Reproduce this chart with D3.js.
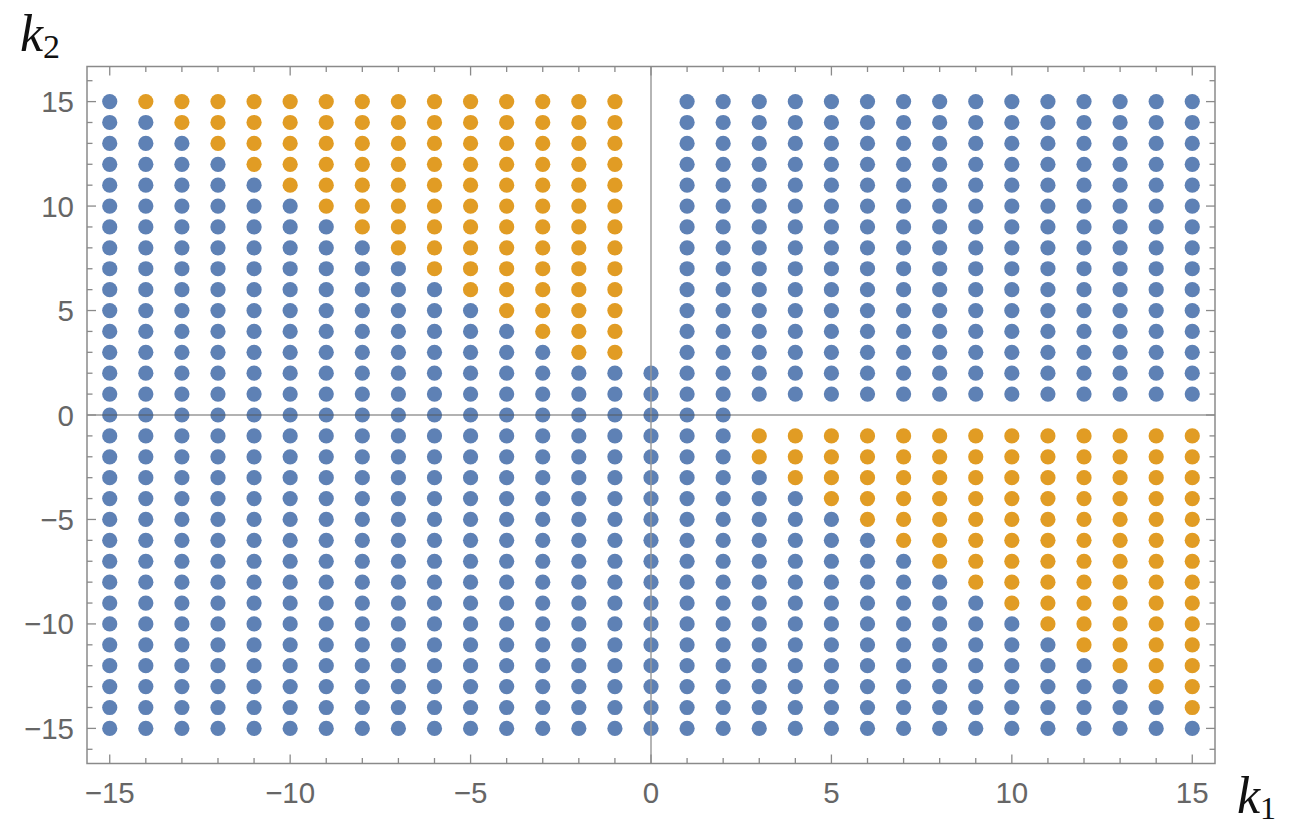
<!DOCTYPE html>
<html>
<head>
<meta charset="utf-8">
<script src="https://cdn.jsdelivr.net/npm/d3@7"></script>
<style>
  html, body { margin: 0; padding: 0; background: #fff; }
  svg { display: block; }
  .tick-label { font-family: "Liberation Sans", Arial, sans-serif; font-size: 29.5px; fill: #666; }
  .axis-title { font-family: "Liberation Serif", "Times New Roman", serif; font-style: italic; fill: #111; }
</style>
</head>
<body>
<svg id="chart" width="1293" height="827"></svg>
<script>
// Lattice coordinates
const k1Values = [-15,-14,-13,-12,-11,-10,-9,-8,-7,-6,-5,-4,-3,-2,-1,0,1,2,3,4,5,6,7,8,9,10,11,12,13,14,15];
const k2Values = [-15,-14,-13,-12,-11,-10,-9,-8,-7,-6,-5,-4,-3,-2,-1,0,1,2,3,4,5,6,7,8,9,10,11,12,13,14,15];

// Per k1 column: lowest k2 of the orange run that reaches up to k2 = 15 (null = none)
const upperOrangeFrom = [null,15,14,13,12,11,10,9,8,7,6,5,4,3,3,null,null,null,null,null,null,null,null,null,null,null,null,null,null,null,null];
// Per k1 column: lowest k2 of the orange run that starts at k2 = -1 (null = none)
const lowerOrangeTo = [null,null,null,null,null,null,null,null,null,null,null,null,null,null,null,null,null,null,-2,-3,-4,-5,-6,-7,-8,-9,-10,-11,-12,-13,-14];

// Lattice sites that carry no point
const gapsInColumn = [{ k1: 0, k2From: 3, k2To: 15 }];
const gapsInRow = [{ k2: 0, k1From: 3, k1To: 15 }];

// Frame ticks
const majorTicks = [-15, -10, -5, 0, 5, 10, 15];
const minorTicksX = [-15,-14,-13,-12,-11,-10,-9,-8,-7,-6,-5,-4,-3,-2,-1,0,1,2,3,4,5,6,7,8,9,10,11,12,13,14,15];
const minorTicksY = [-16,-15,-14,-13,-12,-11,-10,-9,-8,-7,-6,-5,-4,-3,-2,-1,0,1,2,3,4,5,6,7,8,9,10,11,12,13,14,15,16];

const colors = { base: "#5E81B5", flagged: "#E19C24" };

// Assemble point list
const points = [];
k1Values.forEach((a, i) => {
  k2Values.forEach(b => {
    const inColGap = gapsInColumn.some(g => g.k1 === a && b >= g.k2From && b <= g.k2To);
    const inRowGap = gapsInRow.some(g => g.k2 === b && a >= g.k1From && a <= g.k1To);
    if (inColGap || inRowGap) return;
    let flagged = false;
    if (upperOrangeFrom[i] !== null && b >= upperOrangeFrom[i]) flagged = true;
    if (lowerOrangeTo[i] !== null && b <= -1 && b >= lowerOrangeTo[i]) flagged = true;
    points.push({ k1: a, k2: b, flagged });
  });
});

const svg = d3.select("#chart");
const plotLeft = 87, plotRight = 1215, plotTop = 66.5, plotBottom = 763.5;

const x = d3.scaleLinear().domain([-15.63, 15.63]).range([plotLeft, plotRight]);
const y = d3.scaleLinear().domain([-16.68, 16.68]).range([plotBottom, plotTop]);

const frameColor = "#8a8a8a";
const majorLen = 9, minorLen = 5.5;

// Points
svg.append("g")
  .selectAll("circle")
  .data(points)
  .join("circle")
  .attr("cx", d => x(d.k1))
  .attr("cy", d => y(d.k2))
  .attr("r", 7.6)
  .attr("fill", d => d.flagged ? colors.flagged : colors.base);

// Axes through the origin
svg.append("line")
  .attr("x1", x(0)).attr("x2", x(0))
  .attr("y1", plotTop).attr("y2", plotBottom)
  .attr("stroke", "#999").attr("stroke-width", 1.6).attr("stroke-opacity", 0.9);
svg.append("line")
  .attr("x1", plotLeft).attr("x2", plotRight)
  .attr("y1", y(0)).attr("y2", y(0))
  .attr("stroke", "#555").attr("stroke-width", 1.1).attr("stroke-opacity", 0.9);

// Frame
svg.append("rect")
  .attr("x", plotLeft).attr("y", plotTop)
  .attr("width", plotRight - plotLeft).attr("height", plotBottom - plotTop)
  .attr("fill", "none").attr("stroke", frameColor).attr("stroke-width", 1.5);

// Inward ticks on all four sides
const ticks = svg.append("g").attr("stroke", frameColor).attr("stroke-width", 1.3);
minorTicksX.forEach(v => {
  const len = majorTicks.includes(v) ? majorLen : minorLen;
  ticks.append("line").attr("x1", x(v)).attr("x2", x(v)).attr("y1", plotBottom).attr("y2", plotBottom - len);
  ticks.append("line").attr("x1", x(v)).attr("x2", x(v)).attr("y1", plotTop).attr("y2", plotTop + len);
});
minorTicksY.forEach(v => {
  const len = majorTicks.includes(v) ? majorLen : minorLen;
  ticks.append("line").attr("y1", y(v)).attr("y2", y(v)).attr("x1", plotLeft).attr("x2", plotLeft + len);
  ticks.append("line").attr("y1", y(v)).attr("y2", y(v)).attr("x1", plotRight).attr("x2", plotRight - len);
});

const fmt = d3.format("d");

// Tick labels
svg.append("g").selectAll("text")
  .data(majorTicks).join("text")
  .attr("class", "tick-label")
  .attr("x", d => x(d))
  .attr("y", plotBottom + 39)
  .attr("text-anchor", "middle")
  .text(d => fmt(d));

svg.append("g").selectAll("text")
  .data(majorTicks).join("text")
  .attr("class", "tick-label")
  .attr("x", plotLeft - 13)
  .attr("y", d => y(d) + 10.5)
  .attr("text-anchor", "end")
  .text(d => fmt(d));

// Axis titles
const t2 = svg.append("text").attr("class", "axis-title").attr("x", 20).attr("y", 51);
t2.append("tspan").attr("font-size", 52).text("k");
t2.append("tspan").attr("font-size", 34).attr("font-style", "normal").attr("dy", 7).text("2");

const t1 = svg.append("text").attr("class", "axis-title").attr("x", 1237).attr("y", 813);
t1.append("tspan").attr("font-size", 52).text("k");
t1.append("tspan").attr("font-size", 32).attr("font-style", "normal").attr("dy", 6).text("1");
</script>
</body>
</html>
